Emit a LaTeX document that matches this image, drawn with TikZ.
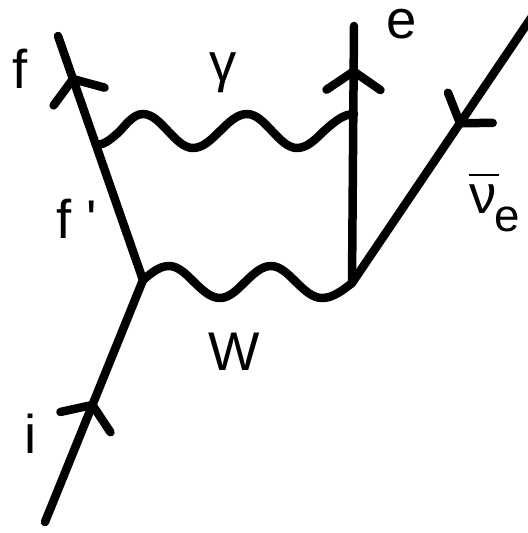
\documentclass[tikz,border=0pt]{standalone}
\usepackage{fontspec}
\setmainfont{Liberation Sans}
\usetikzlibrary{arrows.meta, decorations.markings}

\begin{document}
\begin{tikzpicture}[x=0.2mm, y=-0.2mm,
    line width=1.7mm, line cap=round, line join=round,
    fermion/.style={postaction={decorate}, decoration={markings,
        mark=at position #1 with {\arrow{Straight Barb[length=3.7mm, width=10.8mm, round]}}}},
    lbl/.style={inner sep=0pt, anchor=base, font=\fontsize{31}{36}\selectfont}]
  \useasboundingbox (0,0) rectangle (528,533);
  % vertices
  \coordinate (vin)  at (143,280);
  \coordinate (vout) at (352,283);
  \coordinate (gf)   at (96,145);
  \coordinate (ge)   at (354,114);
  % outer ends
  \coordinate (i0)  at (45,522);
  \coordinate (f1)  at (58,36);
  \coordinate (e1)  at (354,26);
  \coordinate (nu0) at (531,18);
  % fermion lines
  \draw[fermion=0.5]  (i0) -- (vin);
  \draw[fermion=0.84] (vin) -- (f1);
  \draw[fermion=0.84] (vout) -- (e1);
  \draw[fermion=0.41] (nu0) -- (vout);
  % photon
  \draw (gf) cos ++(24,-14) sin ++(23,-17) cos ++(25,17) sin ++(25,17)
    cos ++(27,-17) sin ++(27,-17) cos ++(25,17) sin ++(25,17)
    cos ++(27,-17) sin (ge);
  % W boson
  \draw (vin) sin ++(26,-14) cos ++(25,16) sin ++(26,16) cos ++(25,-16)
    sin ++(26,-16) cos ++(25,16) sin ++(26,16) cos (vout);
  % labels
  \node[lbl] (lf)   at (20,88)   {f};
  \node[lbl] (lgam) at (223,81)  {γ};
  \node[lbl] (lfp)  at (77,238)  {f\ \textquotesingle};
  \node[lbl] (le)   at (402,38)  {e};
  \node[lbl] (lW)   at (234,370) {W};
  \node[lbl] (li)   at (31,453)  {i};
  \node[lbl, anchor=base west] (lnu) at (465,213)
    {\makebox[0pt][l]{\raisebox{20.8pt}{\rule{17pt}{1.5pt}}}ν\kern-1pt\raisebox{-10.8pt}{\fontsize{26}{30}\selectfont e}};
\end{tikzpicture}
\end{document}
